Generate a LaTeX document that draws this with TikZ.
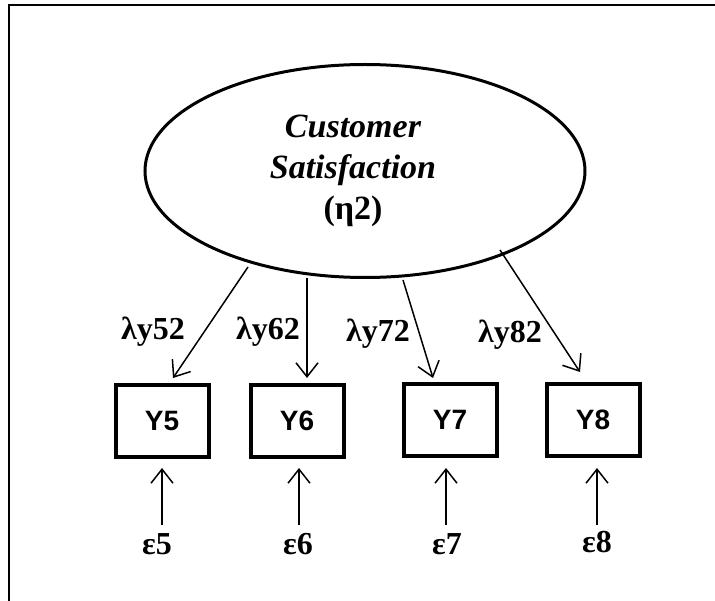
\documentclass[tikz,border=0pt]{standalone}
\usepackage{fontspec}
\setmainfont{Liberation Serif}
\newfontfamily\boxfont{Liberation Sans}
\usetikzlibrary{arrows.meta,shapes.geometric}
\begin{document}
\begin{tikzpicture}[x=1pt,y=-1pt,
  latent/.style={draw,line width=3pt,ellipse,minimum width=440pt,minimum height=213pt,inner sep=0pt},
  manifest/.style={draw,line width=4pt,minimum width=93pt,minimum height=71pt,inner sep=0pt,
    font=\boxfont\bfseries\fontsize{28}{32}\selectfont},
  lbl/.style={font=\bfseries\fontsize{32}{36}\selectfont,inner sep=0pt},
  arc/.style={line width=1.5pt,-{Straight Barb[length=14pt,width=22pt,line width=1.5pt]}}]
\useasboundingbox (0,0) rectangle (715,601);
% page frame (top and left edges)
\draw[line width=2pt] (715,5) -- (9,5) -- (9,601);

% latent factor
\node[latent] (eta) at (365,171) {};
\node[align=center,inner sep=0pt,font=\fontsize{34}{41}\selectfont] (etatext) at (353,171)
  {\bfseries\itshape Customer\\\bfseries\itshape Satisfaction\\\bfseries (η2)};

% indicators
\node[manifest] (y5) at (162,421) {Y5};
\node[manifest] (y6) at (297,421) {Y6};
\node[manifest] (y7) at (450,420) {Y7};
\node[manifest] (y8) at (593,420) {Y8};

% loadings
\coordinate (s5) at (248,267);
\coordinate (s6) at (307,278);
\coordinate (s7) at (403,280);
\coordinate (s8) at (500,250);
\coordinate (t5) at (173,378);
\coordinate (t6) at (307,378);
\coordinate (t7) at (433,378);
\coordinate (t8) at (580,372);
\draw[arc] (s5) -- (t5);
\draw[arc] (s6) -- (t6);
\draw[arc] (s7) -- (t7);
\draw[arc] (s8) -- (t8);

\node[lbl] (l5) at (153,332) {λy52};
\node[lbl] (l6) at (268,332) {λy62};
\node[lbl] (l7) at (378,334) {λy72};
\node[lbl] (l8) at (510,335) {λy82};

% measurement errors
\node[lbl] (e5) at (157,544) {ε5};
\node[lbl] (e6) at (298,544) {ε6};
\node[lbl] (e7) at (447,544) {ε7};
\node[lbl] (e8) at (597,542) {ε8};
\coordinate (b5) at (162,525);
\coordinate (b6) at (299,525);
\coordinate (b7) at (446,525);
\coordinate (b8) at (597,525);
\coordinate (u5) at (162,468);
\coordinate (u6) at (299,468);
\coordinate (u7) at (446,468);
\coordinate (u8) at (597,468);
\draw[arc] (b5) -- (u5);
\draw[arc] (b6) -- (u6);
\draw[arc] (b7) -- (u7);
\draw[arc] (b8) -- (u8);
\end{tikzpicture}
\end{document}
